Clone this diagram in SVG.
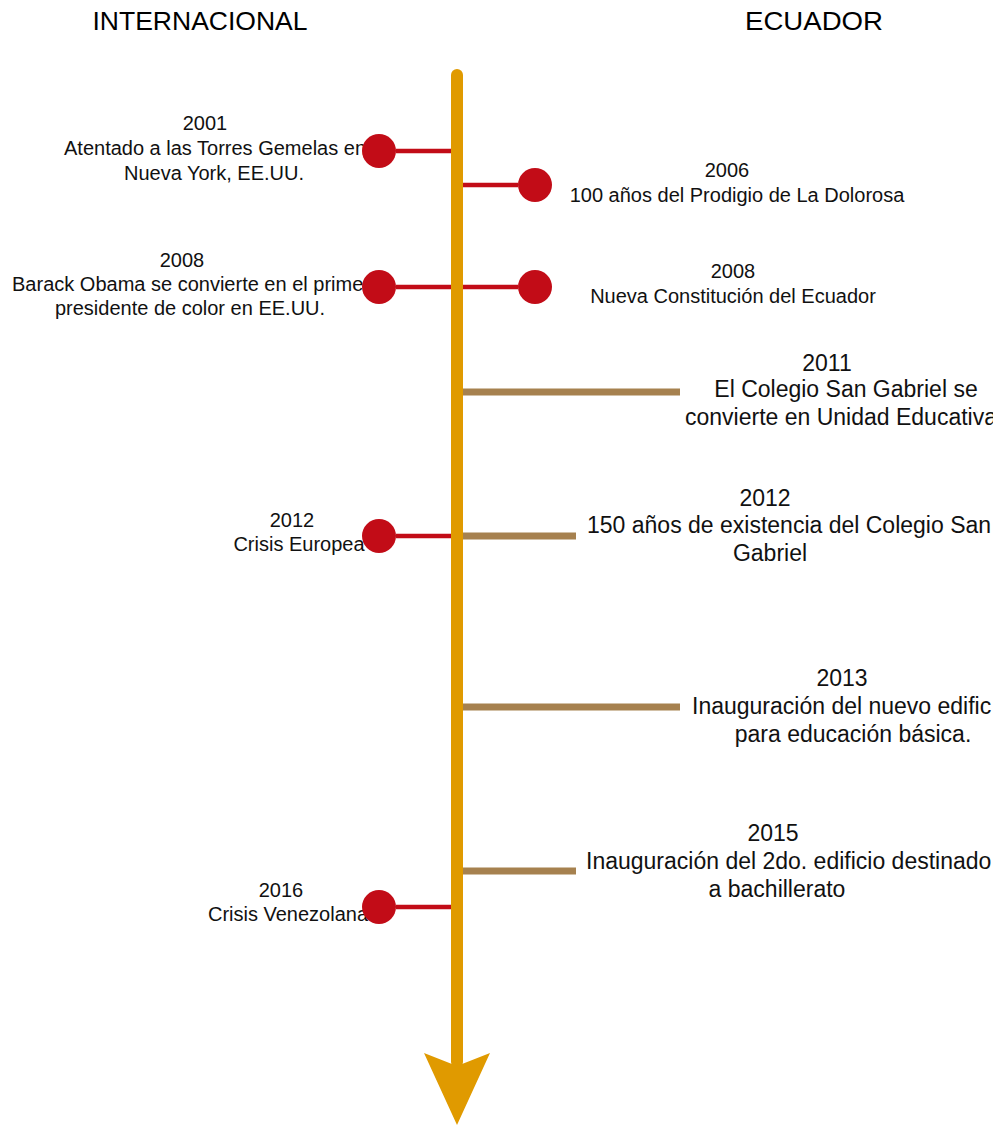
<svg xmlns="http://www.w3.org/2000/svg" width="1001" height="1127" viewBox="0 0 1001 1127">
<style>
.t{font-family:"Liberation Sans",Arial,sans-serif;font-size:20px;fill:#111}
.r{font-family:"Liberation Sans",Arial,sans-serif;font-size:23px;fill:#111}
.h{font-family:"Liberation Sans",Arial,sans-serif;font-size:26px;fill:#000}
.m{text-anchor:middle}
.dot{fill:#C20C17}
.red{stroke:#C20C17;stroke-width:4.5;fill:none}
.brn{stroke:#A6814F;stroke-width:7;fill:none}
</style>
<defs>
<clipPath id="edge"><rect x="0" y="0" width="993" height="1127"/></clipPath>
</defs>
<rect width="1001" height="1127" fill="#fff"/>
<g id="headers">
<text class="h m" x="200" y="30" textLength="215" lengthAdjust="spacingAndGlyphs">INTERNACIONAL</text>
<text class="h m" x="814" y="30" textLength="138" lengthAdjust="spacingAndGlyphs">ECUADOR</text>
</g>
<g id="connectors">
<line class="red" x1="396" y1="151" x2="452" y2="151"/>
<line class="red" x1="462" y1="185" x2="518" y2="185"/>
<line class="red" x1="396" y1="287" x2="518" y2="287"/>
<line class="red" x1="396" y1="536" x2="452" y2="536"/>
<line class="red" x1="396" y1="907" x2="452" y2="907"/>
<line class="brn" x1="462" y1="392" x2="680" y2="392"/>
<line class="brn" x1="462" y1="536" x2="576" y2="536"/>
<line class="brn" x1="462" y1="707" x2="680" y2="707"/>
<line class="brn" x1="462" y1="871" x2="576" y2="871"/>
</g>
<g id="axis">
<line x1="457" y1="75" x2="457" y2="1062" stroke="#E09A00" stroke-width="12" stroke-linecap="round"/>
<polygon points="424,1053 457,1066 490,1053 457,1125" fill="#E09A00"/>
</g>
<g id="e2001">
<text class="t m" x="205" y="130">2001</text>
<text class="t m" x="215" y="155">Atentado a las Torres Gemelas en</text>
<text class="t m" x="214" y="180">Nueva York, EE.UU.</text>
<circle class="dot" cx="379" cy="151" r="17"/>
</g>
<g id="e2006">
<text class="t m" x="727" y="177">2006</text>
<text class="t m" x="737" y="202">100 años del Prodigio de La Dolorosa</text>
<circle class="dot" cx="535" cy="185" r="17"/>
</g>
<g id="e2008i">
<text class="t m" x="182" y="267">2008</text>
<text class="t m" x="191" y="291">Barack Obama se convierte en el primer</text>
<text class="t m" x="190" y="315">presidente de color en EE.UU.</text>
<circle class="dot" cx="379" cy="287" r="17"/>
</g>
<g id="e2008e">
<text class="t m" x="733" y="278">2008</text>
<text class="t m" x="733" y="303">Nueva Constitución del Ecuador</text>
<circle class="dot" cx="535" cy="287" r="17"/>
</g>
<g id="e2011" clip-path="url(#edge)">
<text class="r m" x="827" y="371">2011</text>
<text class="r m" x="846" y="397">El Colegio San Gabriel se</text>
<text class="r" x="685" y="425">convierte en Unidad Educativa</text>
</g>
<g id="e2012i">
<text class="t m" x="292" y="527">2012</text>
<text class="t m" x="299" y="551">Crisis Europea</text>
<circle class="dot" cx="379" cy="536" r="17"/>
</g>
<g id="e2012e" clip-path="url(#edge)">
<text class="r m" x="765" y="506">2012</text>
<text class="r" x="587" y="533">150 años de existencia del Colegio San</text>
<text class="r m" x="770" y="561">Gabriel</text>
</g>
<g id="e2013">
<text class="r m" x="842" y="686">2013</text>
<text class="r" x="692" y="714">Inauguración del nuevo edific</text>
<text class="r m" x="853" y="742">para educación básica.</text>
</g>
<g id="e2015" clip-path="url(#edge)">
<text class="r m" x="773" y="841">2015</text>
<text class="r" x="586" y="869">Inauguración del 2do. edificio destinado</text>
<text class="r m" x="777" y="897">a bachillerato</text>
</g>
<g id="e2016">
<text class="t m" x="281" y="897">2016</text>
<text class="t m" x="288" y="921">Crisis Venezolana</text>
<circle class="dot" cx="379" cy="907" r="17"/>
</g>
</svg>
